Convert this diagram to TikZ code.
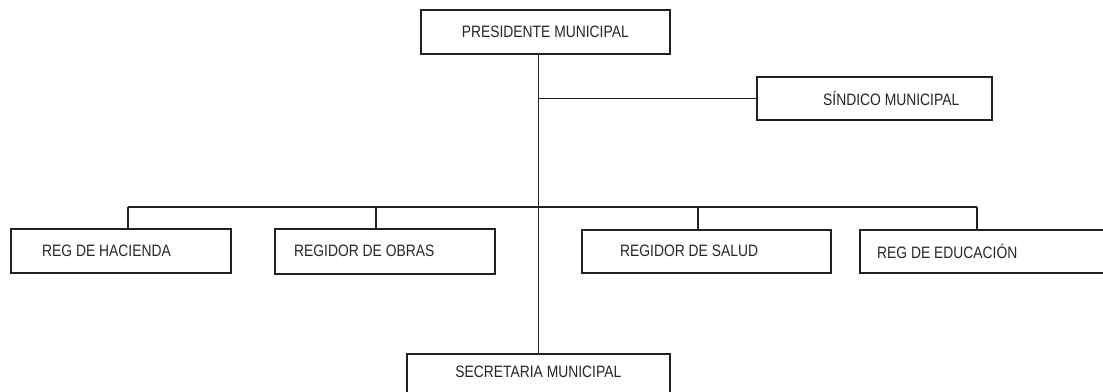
\documentclass[tikz,border=0pt]{standalone}
\usepackage{fontspec}
\setmainfont[FakeStretch=0.84]{Liberation Sans}
\usetikzlibrary{positioning}

\begin{document}
\begin{tikzpicture}[x=1pt, y=-1pt,
  caja/.style={draw=gray!25!black, line width=1.6pt, inner sep=0pt, anchor=north west},
  etiq/.style={font=\fontsize{16.5}{18}\selectfont, text=black!85, inner sep=0pt},
  linea/.style={draw=gray!25!black, line width=1.6pt}]
\clip (0,0) rectangle (1103,391);

% cajas
\node[caja, minimum width=249pt, minimum height=44pt] (pres) at (420,9) {};
\node[caja, minimum width=235pt, minimum height=43pt] (sind) at (756,76) {};
\node[caja, minimum width=220pt, minimum height=44pt] (hac) at (10,228) {};
\node[caja, minimum width=220pt, minimum height=45pt] (obr) at (274,228) {};
\node[caja, minimum width=249pt, minimum height=43pt] (sal) at (581,229) {};
\node[caja, minimum width=260pt, minimum height=43pt] (edu) at (859,229) {};
\node[caja, minimum width=263pt, minimum height=50pt] (sec) at (406,353) {};

% textos
\node[etiq] (presT) at (pres.center) {PRESIDENTE MUNICIPAL};
\node[etiq, anchor=west] (sindT) at ([xshift=67pt]sind.west) {SÍNDICO MUNICIPAL};
\node[etiq, anchor=west] (hacT) at ([xshift=32pt]hac.west) {REG DE HACIENDA};
\node[etiq, anchor=west] (obrT) at ([xshift=20pt]obr.west) {REGIDOR DE OBRAS};
\node[etiq, anchor=west] (salT) at ([xshift=39pt]sal.west) {REGIDOR DE SALUD};
\node[etiq, anchor=west] (eduT) at ([xshift=18pt]edu.west) {REG DE EDUCACIÓN};
\node[etiq] (secT) at ([yshift=-19pt]sec.north) {SECRETARIA MUNICIPAL};

% lineas
\coordinate (b1) at (128,207);
\coordinate (b2) at (376,207);
\coordinate (b3) at (698,207);
\coordinate (b4) at (977,207);
\draw[linea] (pres.south -| sec.north) -- (sec.north);
\draw[linea] (sind.west) -- (sind.west -| sec.north);
\draw[linea] (b1) -- (b4);
\foreach \b/\c in {b1/hac, b2/obr, b3/sal, b4/edu}
  \draw[linea] (\b) -- (\b |- \c.north);
\end{tikzpicture}
\end{document}
